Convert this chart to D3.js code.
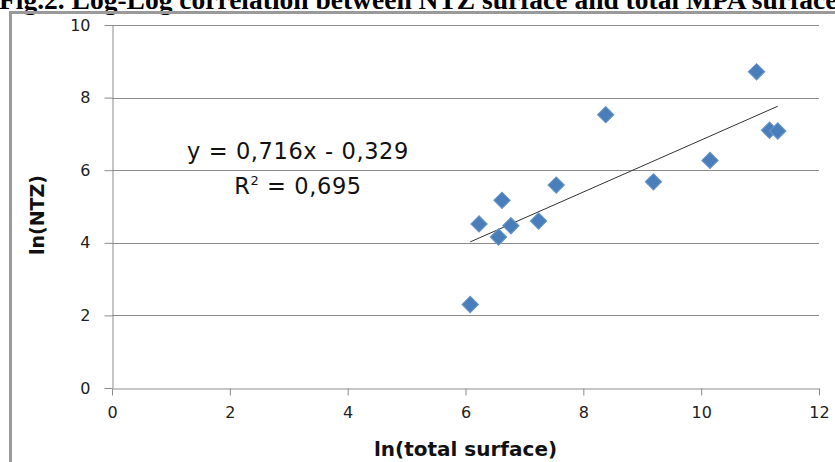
<!DOCTYPE html>
<html>
<head>
<meta charset="utf-8">
<script src="https://cdn.jsdelivr.net/npm/d3@7"></script>
<style>
  body { margin: 0; background: #fff; }
  svg { display: block; }
</style>
</head>
<body>
<svg id="chart" width="835" height="462"></svg>
<script>
// ln(total MPA surface) vs ln(NTZ surface)
const lnTotal = [6.08, 6.23, 6.56, 6.62, 6.77, 7.24, 7.54, 8.38, 9.19, 10.15, 10.94, 11.16, 11.30];
const lnNtz = [2.30, 4.52, 4.16, 5.17, 4.47, 4.60, 5.59, 7.53, 5.68, 6.27, 8.71, 7.10, 7.08];
const xTicks = [0, 2, 4, 6, 8, 10, 12];
const yTicks = [0, 2, 4, 6, 8, 10];
const slope = 0.716;
const intercept = -0.329;
const r2 = 0.695;

const title = 'Fig.2. Log-Log correlation between NTZ surface and total MPA surface';
const fmt = (v) => v.toFixed(3).replace('.', ',');

const svg = d3.select('#chart');
const margin = { left: 112, right: 835 - 819, top: 25, bottom: 462 - 388 };
const axisColor = '#8c8c8c';
const fontFamily = '"DejaVu Sans", Verdana, sans-serif';

const xScale = d3.scaleLinear().domain([0, 12]).range([margin.left, 835 - margin.right]);
const yScale = d3.scaleLinear().domain([0, 10]).range([462 - margin.bottom, margin.top]);

// caption, cut by the page edge like in the scan
svg.append('text')
  .attr('x', -1)
  .attr('y', 9)
  .attr('font-family', '"Liberation Serif", "Times New Roman", serif')
  .attr('font-weight', 'bold')
  .attr('font-size', 27.5)
  .text(title);

// outer frame (only top and left visible)
svg.append('path')
  .attr('d', 'M10.5,462 V12.5 H835')
  .attr('fill', 'none')
  .attr('stroke', '#9a9a9a')
  .attr('stroke-width', 3);

// gridlines
svg.append('g')
  .selectAll('line')
  .data(yTicks.filter((d) => d > 0))
  .join('line')
  .attr('x1', xScale(0))
  .attr('x2', xScale(12))
  .attr('y1', (d) => Math.round(yScale(d)) + 0.5)
  .attr('y2', (d) => Math.round(yScale(d)) + 0.5)
  .attr('stroke', axisColor)
  .attr('stroke-width', 1);

const xAxisG = svg.append('g').attr('transform', `translate(0, ${Math.round(yScale(0)) + 0.5})`);
xAxisG.call(d3.axisBottom(xScale).tickValues(xTicks).tickSize(7).tickSizeOuter(0).tickPadding(11));

const yAxisG = svg.append('g').attr('transform', `translate(${Math.round(xScale(0)) + 0.5}, 0)`);
yAxisG.call(d3.axisLeft(yScale).tickValues(yTicks).tickSize(8).tickSizeOuter(0).tickPadding(14));

[xAxisG, yAxisG].forEach((g) => {
  g.selectAll('.domain').attr('stroke', axisColor);
  g.selectAll('.tick line').attr('stroke', axisColor);
  g.selectAll('.tick text')
    .attr('font-family', fontFamily)
    .attr('font-size', 16)
    .attr('fill', '#222');
});

// trendline over the data's x extent
const [xMin, xMax] = d3.extent(lnTotal);
svg.append('line')
  .attr('x1', xScale(xMin))
  .attr('y1', yScale(slope * xMin + intercept))
  .attr('x2', xScale(xMax))
  .attr('y2', yScale(slope * xMax + intercept))
  .attr('stroke', '#333')
  .attr('stroke-width', 1);

// points
const diamond = d3.symbol(d3.symbolSquare, 135);
svg.append('g')
  .selectAll('path')
  .data(lnTotal.map((x, i) => ({ x, y: lnNtz[i] })))
  .join('path')
  .attr('d', diamond)
  .attr('transform', (d) => `translate(${xScale(d.x)}, ${yScale(d.y)}) rotate(45)`)
  .attr('fill', '#4a7ebb')
  .attr('stroke', '#6b96c9')
  .attr('stroke-width', 1);

// equation
const eq = svg.append('g')
  .attr('font-family', fontFamily)
  .attr('font-size', 22.5)
  .attr('text-anchor', 'middle')
  .attr('fill', '#111');
eq.append('text')
  .attr('x', 298)
  .attr('y', 159)
  .attr('letter-spacing', 0.6)
  .text(`y = ${fmt(slope)}x - ${fmt(-intercept)}`);
const r2Text = eq.append('text').attr('x', 298).attr('y', 194).attr('letter-spacing', 0.6);
r2Text.append('tspan').text('R');
r2Text.append('tspan').attr('font-size', 13).attr('dy', -9).text('2');
r2Text.append('tspan').attr('dy', 9).text(` = ${fmt(r2)}`);

// axis titles
svg.append('text')
  .attr('x', (xScale(0) + xScale(12)) / 2)
  .attr('y', 456)
  .attr('text-anchor', 'middle')
  .attr('font-family', fontFamily)
  .attr('font-weight', 'bold')
  .attr('font-size', 20)
  .attr('fill', '#111')
  .text('ln(total surface)');

svg.append('text')
  .attr('transform', 'translate(44, 215) rotate(-90)')
  .attr('text-anchor', 'middle')
  .attr('font-family', fontFamily)
  .attr('font-weight', 'bold')
  .attr('font-size', 19)
  .attr('fill', '#111')
  .text('ln(NTZ)');
</script>
</body>
</html>
